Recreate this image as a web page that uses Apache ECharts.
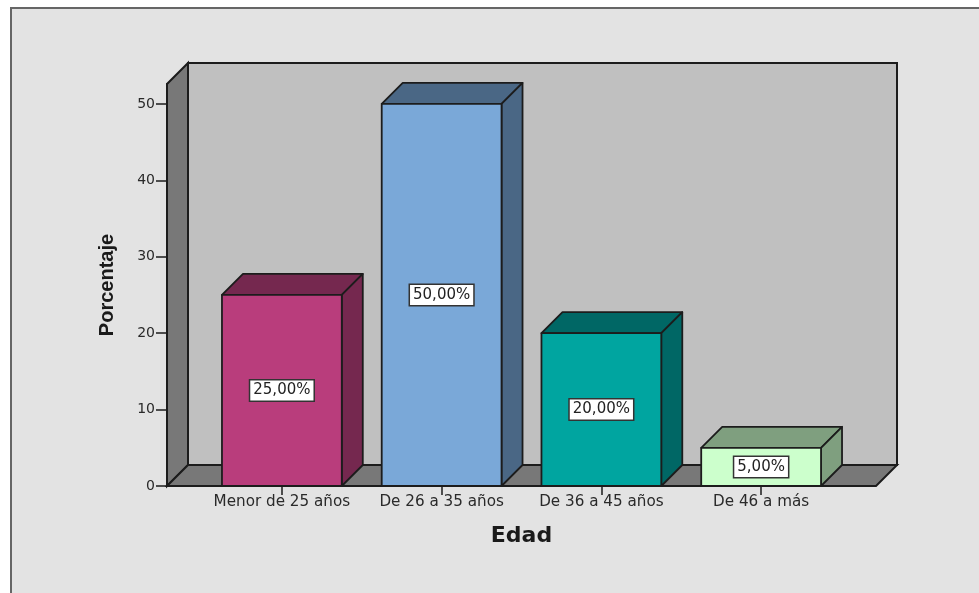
<!DOCTYPE html>
<html>
<head>
<meta charset="utf-8">
<style>html,body{margin:0;padding:0;background:#fff}#c{width:979px;height:593px}</style>
<script src="https://cdn.jsdelivr.net/npm/echarts@6/dist/echarts.min.js"></script>
</head>
<body>
<div id="c"></div>
<script>
const categories = ['Menor de 25 años', 'De 26 a 35 años', 'De 36 a 45 años', 'De 46 a más'];
const percentages = [25, 50, 20, 5];
const valueLabels = ['25,00%', '50,00%', '20,00%', '5,00%'];
const frontColors = ['#b93d7c', '#7aa8d8', '#00a5a0', '#ccffcc'];
const sideColors = ['#75284f', '#4a6785', '#006765', '#7f9f7f'];
const yTicks = [0, 10, 20, 30, 40, 50];

const DEPTH = 21, OVERHANG = 35, EDGE = '#1c1c1c', FONT = '"DejaVu Sans"';
const chart = echarts.init(document.getElementById('c'), null, {renderer: 'canvas'});

function renderWalls(params, api) {
  const cs = params.coordSys;
  const l = cs.x - OVERHANG, r = cs.x + cs.width + OVERHANG, t = cs.y, b = cs.y + cs.height;
  const ln = {stroke: EDGE, lineWidth: 2};
  return {type: 'group', children: [
    {type: 'polygon', shape: {points: [[l + DEPTH, t - DEPTH], [r + DEPTH, t - DEPTH], [r + DEPTH, b - DEPTH], [l + DEPTH, b - DEPTH]]},
      style: Object.assign({fill: '#c0c0c0'}, ln)},
    {type: 'polygon', shape: {points: [[l, t], [l + DEPTH, t - DEPTH], [l + DEPTH, b - DEPTH], [l, b]]},
      style: Object.assign({fill: '#787878'}, ln)},
    {type: 'polygon', shape: {points: [[l, b], [l + DEPTH, b - DEPTH], [r + DEPTH, b - DEPTH], [r, b]]},
      style: Object.assign({fill: '#787878'}, ln)}
  ]};
}

function renderBar(params, api) {
  const i = params.dataIndex;
  const v = api.value(1);
  const top = api.coord([api.value(0), v]);
  const base = api.coord([api.value(0), 0]);
  const mid = api.coord([api.value(0), v / 2]);
  const w = api.size([1, 0])[0] * 0.75;
  const x0 = top[0] - w / 2, x1 = top[0] + w / 2, yt = top[1], yb = base[1];
  const ln = {stroke: EDGE, lineWidth: 1.8, lineJoin: 'round'};
  return {type: 'group', children: [
    {type: 'polygon', shape: {points: [[x0, yt], [x0 + DEPTH, yt - DEPTH], [x1 + DEPTH, yt - DEPTH], [x1, yt]]},
      style: Object.assign({fill: sideColors[i]}, ln)},
    {type: 'polygon', shape: {points: [[x1, yt], [x1 + DEPTH, yt - DEPTH], [x1 + DEPTH, yb - DEPTH], [x1, yb]]},
      style: Object.assign({fill: sideColors[i]}, ln)},
    {type: 'rect', shape: {x: x0, y: yt, width: w, height: yb - yt},
      style: Object.assign({fill: frontColors[i]}, ln)},
    {type: 'text', x: mid[0], y: mid[1],
      style: {text: valueLabels[i], align: 'center', verticalAlign: 'middle',
        font: '15px ' + FONT, fill: '#222', backgroundColor: '#fff',
        borderColor: '#333', borderWidth: 1.5, padding: [3, 3, 2, 3]}}
  ]};
}

chart.setOption({
  animation: false,
  backgroundColor: '#fff',
  graphic: [{type: 'rect', z: -10, silent: true,
    shape: {x: 11, y: 8, width: 1100, height: 700},
    style: {fill: '#e3e3e3', stroke: '#666', lineWidth: 2}}],
  grid: {left: 202, top: 84, width: 639, height: 402},
  xAxis: {
    type: 'category', data: categories,
    name: 'Edad', nameLocation: 'middle', nameGap: 39,
    nameTextStyle: {fontFamily: FONT, fontWeight: 'bold', fontSize: 22, color: '#1a1a1a'},
    axisLine: {show: false},
    axisTick: {show: true, alignWithLabel: true, length: 9, lineStyle: {color: EDGE, width: 1.5}},
    axisLabel: {fontFamily: FONT, fontSize: 15.2, color: '#2a2a2a', margin: 9, interval: 0},
    splitLine: {show: false}
  },
  yAxis: {
    type: 'value', min: 0, max: 52.6, offset: OVERHANG,
    name: 'Porcentaje', nameLocation: 'middle', nameGap: 50, nameRotate: 90,
    nameTextStyle: {fontFamily: 'Liberation Sans', fontWeight: 'bold', fontSize: 20, color: '#1a1a1a'},
    axisLine: {show: true, lineStyle: {color: EDGE, width: 2}},
    axisTick: {show: true, length: 11, customValues: yTicks, lineStyle: {color: EDGE, width: 1.5}},
    axisLabel: {fontFamily: FONT, fontSize: 14, color: '#2a2a2a', margin: 12, customValues: yTicks},
    splitLine: {show: false}
  },
  series: [
    {type: 'custom', coordinateSystem: 'cartesian2d', renderItem: renderWalls, data: [[0, 0]], z: 1, silent: true, clip: false},
    {type: 'custom', coordinateSystem: 'cartesian2d', renderItem: renderBar,
      data: categories.map((c, i) => [i, percentages[i]]), encode: {x: 0, y: 1}, z: 2, silent: true, clip: false}
  ]
});
</script>
</body>
</html>
